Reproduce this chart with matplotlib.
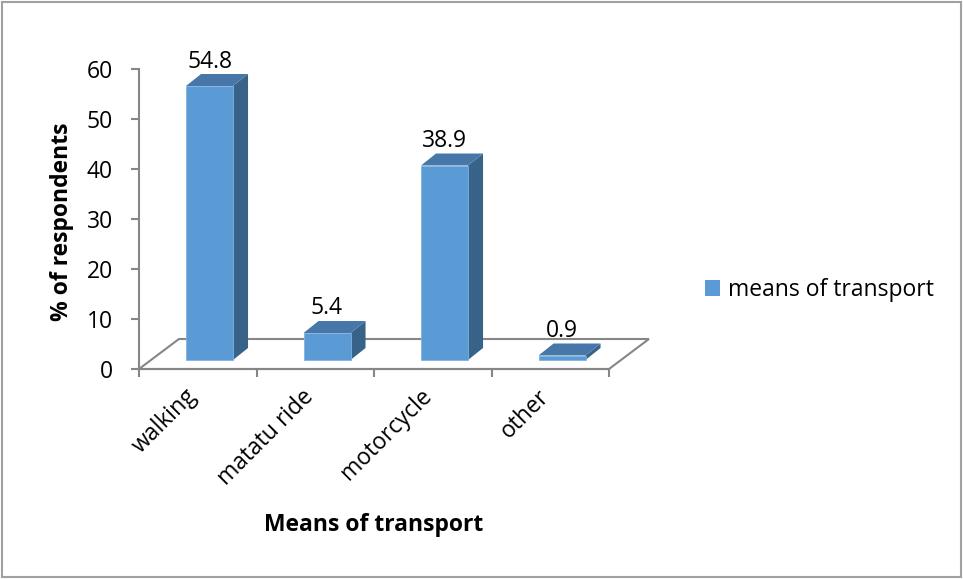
import matplotlib
matplotlib.use('Agg')
import matplotlib.pyplot as plt
from matplotlib.patches import Polygon, Rectangle, Patch

categories = ['walking', 'matatu ride', 'motorcycle', 'other']
values = [54.8, 5.4, 38.9, 0.9]
series_name = 'means of transport'
y_ticks = [0, 10, 20, 30, 40, 50, 60]

FRONT = '#5B9BD5'
TOP = '#4677A8'
SIDE = '#386389'
AXIS = '#868686'
FS = 16.5

plt.rcParams['font.family'] = ['Open Sans', 'DejaVu Sans']

W, H = 963, 579
fig = plt.figure(figsize=(W / 100, H / 100), dpi=100)
ax = fig.add_axes([139 / W, (H - 369) / H, (609 - 139) / W, (369 - 69) / H])
ax.set_xlim(0, len(categories))
ax.set_ylim(0, 60)

# floor depth / bar placement (in data units)
fdx, fdy = 0.34, 6.0
off_x, off_y = 0.10, 1.8
bw = 0.40
bdx, bdy = 0.128, 2.4

floor = Polygon([(0, 0), (len(categories), 0),
                 (len(categories) + fdx, fdy), (fdx, fdy)],
                closed=True, facecolor='white', edgecolor=AXIS, lw=1.5,
                clip_on=False, zorder=1)
ax.add_patch(floor)

for i, v in enumerate(values):
    x0 = i + 0.5 - bw / 2 + off_x
    y0 = off_y
    x1 = x0 + bw
    y1 = y0 + v
    side = Polygon([(x1, y0), (x1 + bdx, y0 + bdy), (x1 + bdx, y1 + bdy), (x1, y1)],
                   facecolor=SIDE, edgecolor='none', clip_on=False, zorder=3)
    top = Polygon([(x0, y1), (x1, y1), (x1 + bdx, y1 + bdy), (x0 + bdx, y1 + bdy)],
                  facecolor=TOP, edgecolor='none', clip_on=False, zorder=3)
    front = Rectangle((x0, y0), bw, v, facecolor=FRONT, edgecolor='#7FB2E0',
                      lw=0.6, clip_on=False, zorder=4)
    for p in (side, top, front):
        ax.add_patch(p)
    ax.text(i + 0.5 + off_x, v + 6.7, f'{v}', ha='center', va='center',
            fontsize=FS, color='black', zorder=5)

for s in ('top', 'right'):
    ax.spines[s].set_visible(False)
for s in ('left', 'bottom'):
    ax.spines[s].set_color(AXIS)
    ax.spines[s].set_linewidth(1.5)
    ax.spines[s].set_zorder(2)

ax.set_yticks(y_ticks)
ax.set_yticklabels([str(t) for t in y_ticks], fontsize=FS)
ax.set_xticks(range(len(categories) + 1))
ax.set_xticklabels([])
ax.tick_params(axis='both', direction='out', length=5.8, width=1.5, color=AXIS)
ax.tick_params(axis='y', pad=13)

for i, c in enumerate(categories):
    ax.text(i + 0.5 - 0.04, -4.8, c, rotation=45, rotation_mode='anchor',
            ha='right', va='center', fontsize=FS)

fig.text(62 / W, 1 - 222 / H, '% of respondents', rotation=90, ha='center',
         va='center', fontsize=FS, fontweight='bold')
fig.text(374 / W, 1 - 525 / H, 'Means of transport', ha='center', va='center',
         fontsize=FS, fontweight='bold')

fig.legend(handles=[Patch(facecolor=FRONT, edgecolor='none', label=series_name)],
           loc='center left', bbox_to_anchor=(705 / W, 1 - 290 / H),
           frameon=False, fontsize=FS, handlelength=0.65, handleheight=0.65,
           handletextpad=0.35, borderpad=0, borderaxespad=0)

fig.patches.append(Rectangle((2 / W, 2 / H), 1 - 4 / W, 1 - 4 / H,
                             transform=fig.transFigure, fill=False,
                             edgecolor='#A0A0A0', lw=1.5))

fig.savefig('out.png', dpi=100)
